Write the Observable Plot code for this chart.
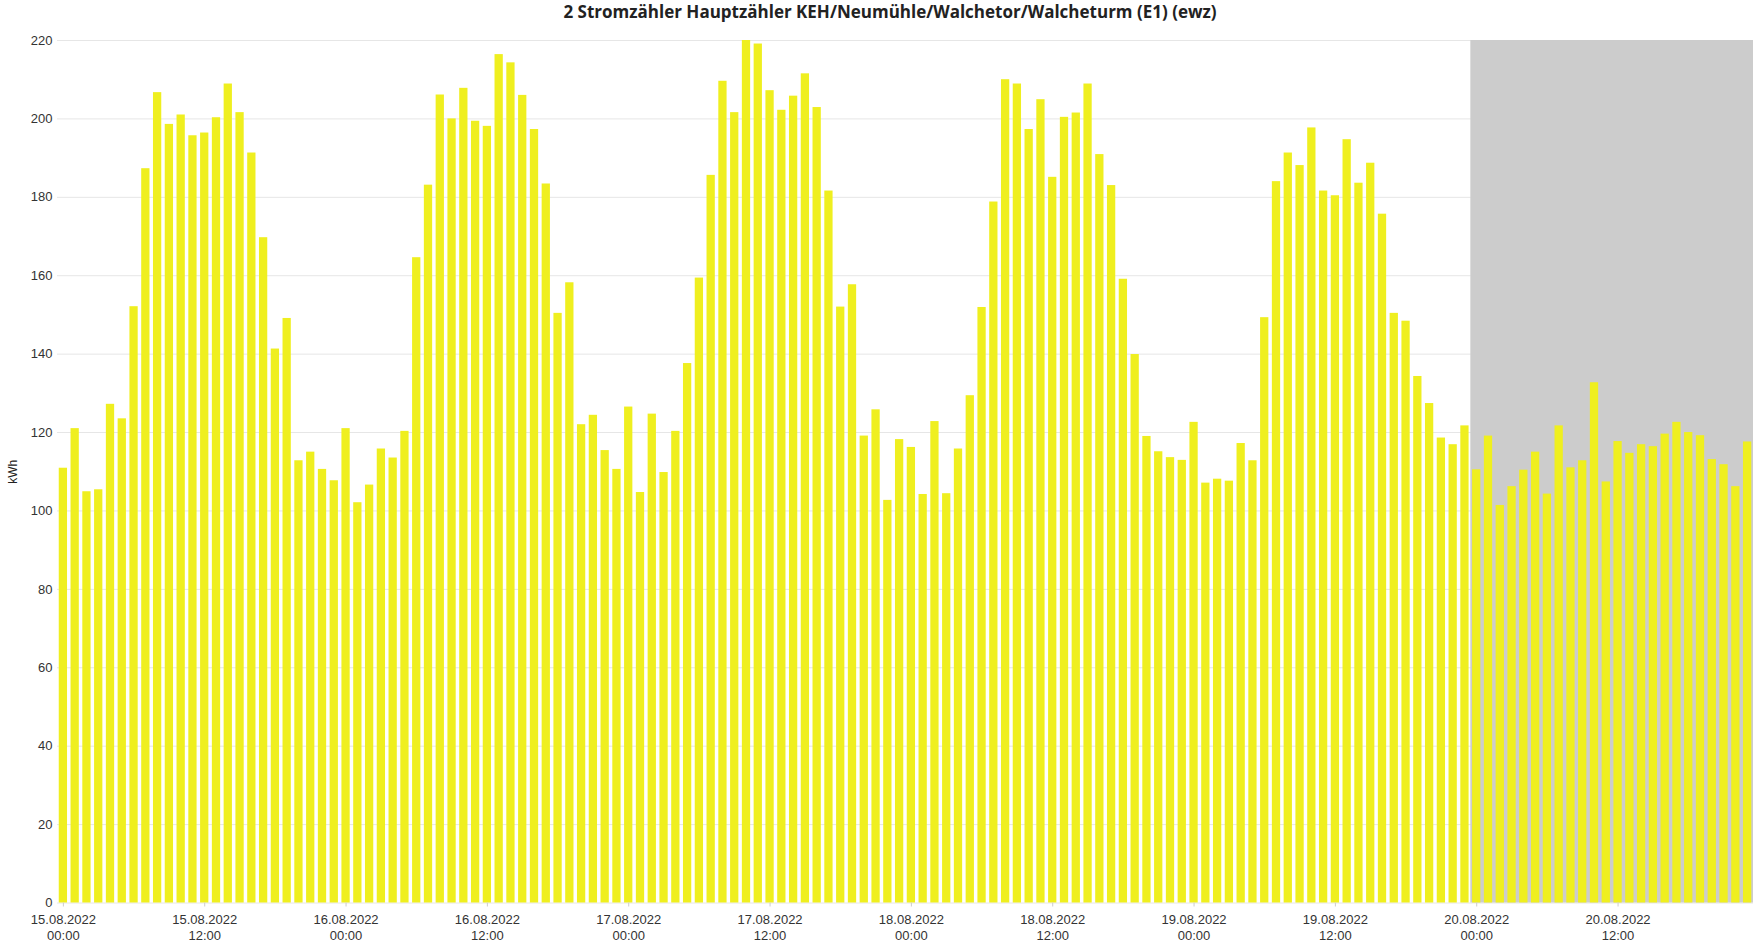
<!DOCTYPE html>
<html>
<head>
<meta charset="utf-8">
<script src="https://cdn.jsdelivr.net/npm/d3@7"></script>
<script src="https://cdn.jsdelivr.net/npm/@observablehq/plot@0.6"></script>
<style>
  html, body { margin: 0; padding: 0; background: #fff; }
  #title {
    width: 1754px; height: 24px; line-height: 24px; box-sizing: border-box;
    padding-left: 26px; text-align: center;
    font-family: "Open Sans", "Liberation Sans", Arial, sans-serif;
    font-weight: 700; font-size: 17px; color: #222;
  }
</style>
</head>
<body>
<div id="title">2 Stromzähler Hauptzähler KEH/Neumühle/Walchetor/Walcheturm (E1) (ewz)</div>
<div id="chart"></div>
<script>
// ---- data (hourly kWh, one array per day, hours 00:00 .. 23:00) ----
const days = ["15.08.2022", "16.08.2022", "17.08.2022", "18.08.2022", "19.08.2022", "20.08.2022"];
const kwh15 = [110.9, 121.0, 104.9, 105.4, 127.2, 123.5, 152.1, 187.3, 206.7, 198.6, 201.0, 195.7, 196.4, 200.3, 208.9, 201.6, 191.3, 169.7, 141.3, 149.1, 112.8, 115.0, 110.6, 107.7];
const kwh16 = [121.0, 102.1, 106.6, 115.8, 113.5, 120.3, 164.6, 183.1, 206.1, 200.0, 207.8, 199.4, 198.1, 216.4, 214.3, 206.0, 197.3, 183.4, 150.4, 158.2, 122.0, 124.4, 115.4, 110.6];
const kwh17 = [126.5, 104.7, 124.7, 109.8, 120.3, 137.6, 159.4, 185.6, 209.6, 201.6, 220.0, 219.1, 207.2, 202.2, 205.8, 211.5, 202.9, 181.6, 152.0, 157.7, 119.1, 125.8, 102.7, 118.2];
const kwh18 = [116.2, 104.2, 122.8, 104.4, 115.8, 129.4, 151.9, 178.8, 210.0, 208.9, 197.3, 204.9, 185.1, 200.4, 201.5, 208.9, 190.9, 183.0, 159.1, 139.9, 119.0, 115.1, 113.6, 112.9];
const kwh19 = [122.6, 107.1, 108.1, 107.6, 117.2, 112.8, 149.3, 184.0, 191.3, 188.1, 197.7, 181.6, 180.4, 194.7, 183.6, 188.7, 175.7, 150.4, 148.4, 134.3, 127.4, 118.6, 116.9, 121.7];
const kwh20 = [110.5, 119.1, 101.4, 106.2, 110.4, 115.0, 104.3, 121.7, 111.0, 112.8, 132.7, 107.4, 117.7, 114.7, 116.9, 116.4, 119.6, 122.6, 120.0, 119.2, 113.1, 111.8, 106.2, 117.6];
const dailySeries = [kwh15, kwh16, kwh17, kwh18, kwh19, kwh20];
const shadedFromDay = "20.08.2022";          // grey background from this day on
const yTicks = [0, 20, 40, 60, 80, 100, 120, 140, 160, 180, 200, 220];
const xTickTimes = [0, 12];                   // hours of day with a tick label
const yLabel = "kWh";

// ---- build table ----
const HOUR = 3600e3;
function dayDate(s, h) { const [dd, mm, yyyy] = s.split("."); return new Date(Date.UTC(+yyyy, +mm - 1, +dd, h)); }
const rows = [];
days.forEach((d, i) => dailySeries[i].forEach((v, h) => rows.push({t: dayDate(d, h), v})));
const first = rows[0].t, last = rows[rows.length - 1].t;
const xDomain = [new Date(+first - HOUR / 2), new Date(+last + HOUR / 2)];
const shade = [{from: new Date(+dayDate(shadedFromDay, 0) - HOUR / 2), to: xDomain[1]}];
const tickDates = days.flatMap(d => xTickTimes.map(h => dayDate(d, h)));
const pad = n => String(n).padStart(2, "0");
const fmt = t => `${pad(t.getUTCDate())}.${pad(t.getUTCMonth() + 1)}.${t.getUTCFullYear()}\n${pad(t.getUTCHours())}:${pad(t.getUTCMinutes())}`;

const chart = Plot.plot({
  width: 1754,
  height: 920,
  marginTop: 16,
  marginBottom: 41.5,
  marginLeft: 57,
  marginRight: 1,
  style: {fontFamily: "'Liberation Sans', Arial, sans-serif", fontSize: "13px", color: "#333", background: "#fff"},
  x: {type: "utc", domain: xDomain},
  y: {domain: [0, 220]},
  marks: [
    Plot.gridY({ticks: yTicks, stroke: "#e6e6e6", strokeOpacity: 1}),
    Plot.rect(shade, {x1: "from", x2: "to", y1: 0, y2: 220, fill: "#cccccc"}),
    Plot.rectY(rows, {
      x1: d => new Date(+d.t - HOUR / 2),
      x2: d => new Date(+d.t + HOUR / 2),
      y: "v",
      fill: "#efef1f",
      insetLeft: 1.75,
      insetRight: 1.75
    }),
    Plot.axisY({ticks: yTicks, tickSize: 0, tickPadding: 5, fill: "#333", fontSize: 13, label: null}),
    Plot.axisY({ticks: [], label: yLabel, labelAnchor: "center", labelArrow: "none", labelOffset: 49.5, fill: "#222", fontSize: 12}),
    Plot.axisX({ticks: tickDates, tickFormat: fmt, tickSize: 4, tickPadding: 5, stroke: "#cccccc", fill: "#333", fontSize: 13, lineHeight: 1.25, label: null})
  ]
});
document.getElementById("chart").appendChild(chart);
</script>
</body>
</html>
